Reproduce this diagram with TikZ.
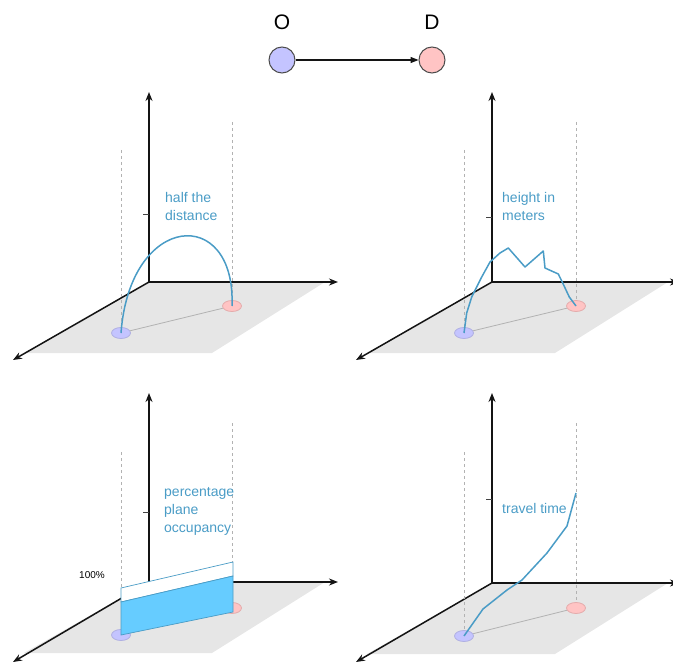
\documentclass[tikz,border=0pt]{standalone}
\usepackage{fontspec}
\setmainfont{Liberation Sans}
\usepackage{xcolor}
\usepackage{tikz}
\usetikzlibrary{arrows.meta,shapes.geometric}
\definecolor{axline}{RGB}{20,20,20}
\definecolor{planegray}{RGB}{230,230,230}
\definecolor{origfill}{RGB}{196,196,255}
\definecolor{origedge}{RGB}{176,176,226}
\definecolor{destfill}{RGB}{255,196,196}
\definecolor{destedge}{RGB}{228,172,172}
\definecolor{pathblue}{RGB}{74,156,198}
\definecolor{bandblue}{RGB}{102,204,255}
\tikzset{
  ax/.style    ={draw=axline, line width=1.5pt, -{Stealth[length=9pt,width=7pt]}},
  axtick/.style={draw=axline!80, line width=0.8pt},
  floor/.style ={fill=planegray, draw=none},
  guide/.style ={draw=black!30, line width=0.7pt, dash pattern=on 3pt off 3pt},
  odot/.style  ={ellipse, fill=origfill, draw=origedge, line width=0.8pt, minimum width=19pt, minimum height=11pt, inner sep=0pt},
  ddot/.style  ={ellipse, fill=destfill, draw=destedge, line width=0.8pt, minimum width=19pt, minimum height=11pt, inner sep=0pt},
  link/.style  ={draw=black!30, line width=0.8pt},
  trace/.style ={draw=pathblue, line width=1.5pt, line join=round},
  lab/.style   ={font=\fontsize{14}{18}\selectfont, text=pathblue, align=left, anchor=north west, inner sep=0pt},
  bigc/.style  ={circle, minimum size=26pt, inner sep=0pt, draw=black!70, line width=1pt},
  biglab/.style={font=\fontsize{21}{24}\selectfont, anchor=base, inner sep=0pt},
}
\begin{document}
\begin{tikzpicture}[x=1pt,y=-1pt]
  \useasboundingbox (0,0) rectangle (673,666);
  \node[biglab] (olab) at (282,30) {O};
  \node[biglab] (dlab) at (432,30) {D};
  \node[bigc,fill=origfill] (o) at (282,60) {};
  \node[bigc,fill=destfill] (d) at (432,60) {};
  \draw[draw=axline,line width=1.2pt,-{Triangle[length=8pt,width=6pt]}] (o) -- (d);

  \fill[floor] (149,282) -- (325,282) -- (212,353) -- (24,353) -- cycle;
  \draw[ax] (149,282) -- (149,92);
  \draw[ax] (149,282) -- (338,282);
  \draw[ax] (149,282) -- (13,360);
  \draw[axtick] (143,214) -- (149,214);
  \draw[guide] (121,150) -- (121,333);
  \draw[guide] (232,122) -- (232,306);
  \node[odot] (p1o) at (121,333) {};
  \node[ddot] (p1d) at (232,306) {};
  \draw[link] (p1o) -- (p1d);
  \draw[trace] (p1o.center) .. controls (130,212) and (236,205) .. (p1d.center);
  \node[lab] (p1lab) at (165,192) {half the\\distance};

  \fill[floor] (492,282) -- (668,282) -- (555,353) -- (367,353) -- cycle;
  \draw[ax] (492,282) -- (492,92);
  \draw[ax] (492,282) -- (679,282);
  \draw[ax] (492,282) -- (356,360);
  \draw[axtick] (486,217) -- (492,217);
  \draw[guide] (464,150) -- (464,333);
  \draw[guide] (576,122) -- (576,306);
  \node[odot] (p2o) at (464,333) {};
  \node[ddot] (p2d) at (576,306) {};
  \draw[link] (p2o) -- (p2d);
  \draw[trace] (p2o.center) -- (466.7,313) -- (471.7,297) -- (476.7,287) -- (481.7,277) -- (490,262) -- (500,253) -- (508.3,248) -- (525,267) -- (543.3,251) -- (545,268) -- (558.3,274) -- (562.7,283) -- (569.3,297) -- (p2d.center);
  \node[lab] (p2lab) at (502,192) {height in\\meters};

  \fill[floor] (149,582) -- (325,582) -- (212,653) -- (24,653) -- cycle;
  \draw[ax] (149,582) -- (149,393);
  \draw[ax] (149,582) -- (338,582);
  \draw[ax] (149,582) -- (13,662);
  \draw[axtick] (143,512) -- (149,512);
  \draw[guide] (121,452) -- (121,635);
  \draw[guide] (232,423) -- (232,608);
  \node[odot] (p3o) at (121,635) {};
  \node[ddot] (p3d) at (232,608) {};
  \draw[link] (p3o) -- (p3d);
  \draw[draw=pathblue,line width=0.7pt,fill=white] (121,588) -- (233,562) -- (233,576) -- (121,602) -- cycle;
  \draw[draw=pathblue,line width=0.7pt,fill=bandblue] (121,602) -- (233,576) -- (233,612) -- (121,635) -- cycle;
  \node[font=\fontsize{10}{12}\selectfont,anchor=base west,inner sep=0pt] (full) at (79,578) {100\%};
  \node[lab] (p3lab) at (164,487) {percentage\\plane\\occupancy};

  \fill[floor] (492,583) -- (668,583) -- (555,654) -- (367,654) -- cycle;
  \draw[ax] (492,583) -- (492,393);
  \draw[ax] (492,583) -- (679,583);
  \draw[ax] (492,583) -- (356,662);
  \draw[axtick] (486,499) -- (492,499);
  \draw[guide] (464,452) -- (464,636);
  \draw[guide] (576,423) -- (576,608);
  \node[odot] (p4o) at (464,636) {};
  \node[ddot] (p4d) at (576,608) {};
  \draw[link] (p4o) -- (p4d);
  \coordinate (p4top) at (576,493);
  \draw[trace] (p4o.center) -- (483,609) -- (507,590) -- (522,580) -- (547,553) -- (567,526) -- (p4top);
  \node[lab] (p4lab) at (502,503) {travel time};
\end{tikzpicture}
\end{document}
